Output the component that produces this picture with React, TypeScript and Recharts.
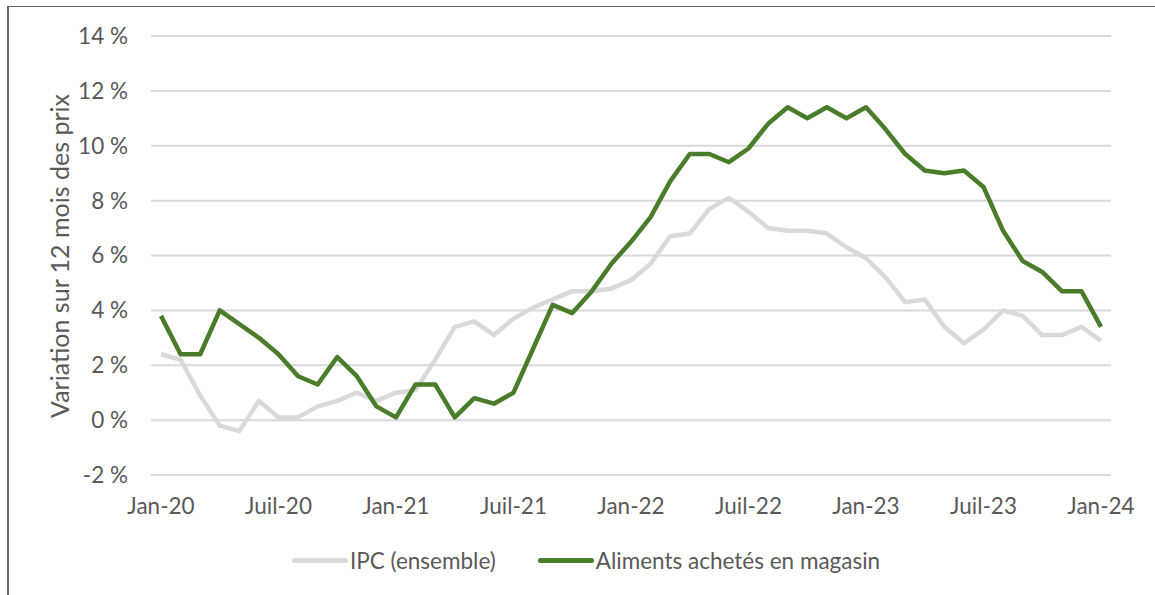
import React from 'react';
import { LineChart, Line, XAxis, YAxis, CartesianGrid, Legend } from 'recharts';

const MONTHS = ['Jan', 'Févr', 'Mars', 'Avr', 'Mai', 'Juin', 'Juil', 'Août', 'Sept', 'Oct', 'Nov', 'Déc'];
const YEARS = ['20', '21', '22', '23', '24'];

// IPC (ensemble), variation sur 12 mois, Jan-20 .. Jan-24
const ipc = [
    2.4, 2.2, 0.9, -0.2, -0.4, 0.7, 0.1, 0.1, 0.5, 0.7, 1.0, 0.7,
    1.0, 1.1, 2.2, 3.4, 3.6, 3.1, 3.7, 4.1, 4.4, 4.7, 4.7, 4.8,
    5.1, 5.7, 6.7, 6.8, 7.7, 8.1, 7.6, 7.0, 6.9, 6.9, 6.8, 6.3,
    5.9, 5.2, 4.3, 4.4, 3.4, 2.8, 3.3, 4.0, 3.8, 3.1, 3.1, 3.4,
    2.9,
];

// Aliments achetés en magasin
const aliments = [
    3.8, 2.4, 2.4, 4.0, 3.5, 3.0, 2.4, 1.6, 1.3, 2.3, 1.6, 0.5,
    0.1, 1.3, 1.3, 0.1, 0.8, 0.6, 1.0, 2.6, 4.2, 3.9, 4.7, 5.7,
    6.5, 7.4, 8.7, 9.7, 9.7, 9.4, 9.9, 10.8, 11.4, 11.0, 11.4, 11.0,
    11.4, 10.6, 9.7, 9.1, 9.0, 9.1, 8.5, 6.9, 5.8, 5.4, 4.7, 4.7,
    3.4,
];

const yTicks = [-2, 0, 2, 4, 6, 8, 10, 12, 14];
const seriesOrder = ['ipc', 'aliments'];

const labels = ipc.map((_, i) => `${MONTHS[i % 12]}-${YEARS[Math.floor(i / 12)]}`);
const data = labels.map((mois, i) => ({ mois, ipc: ipc[i], aliments: aliments[i] }));

const FONT = 'Lato, "Open Sans", sans-serif';
const FS = 22.5;
const TEXT = '#595959';
const GRAY = '#d9d9d9';
const GREEN = '#4a7d2a';

const LegendContent = ({ payload }: any) => {
    const items = [...(payload || [])].sort(
        (a: any, b: any) => seriesOrder.indexOf(a.dataKey) - seriesOrder.indexOf(b.dataKey)
    );
    return (
        <div style={{ display: 'flex', alignItems: 'center', height: 40, marginLeft: 292, fontFamily: FONT, fontSize: FS, color: TEXT }}>
            {items.map((entry: any, i: number) => (
                <div key={entry.value} style={{ display: 'flex', alignItems: 'center', marginRight: i === 0 ? 42 : 0 }}>
                    <span style={{ display: 'inline-block', width: 56, height: 5, borderRadius: 3, background: entry.color, marginRight: 2 }} />
                    <span>{entry.value}</span>
                </div>
            ))}
        </div>
    );
};

const YLabel = () => (
    <text
        x={59}
        y={256}
        transform="rotate(-90, 59, 256)"
        textAnchor="middle"
        dominantBaseline="central"
        fill={TEXT}
        fontFamily={FONT}
        fontSize={25}
    >
        Variation sur 12 mois des prix
    </text>
);

export default function App() {
    return (
        <div style={{ position: 'absolute', left: 0, top: 0, width: 1155, height: 595, background: '#fff' }}>
            <div style={{ position: 'absolute', left: 7, top: 6, width: 1148, height: 589, borderLeft: '2px solid #666', borderTop: '1px solid #666' }} />
            <LineChart width={1155} height={595} data={data} margin={{ top: 36, right: 44, left: 0, bottom: 15 }}>
                <CartesianGrid vertical={false} stroke={GRAY} strokeWidth={2} />
                <XAxis
                    dataKey="mois"
                    interval={5}
                    axisLine={false}
                    tickLine={false}
                    tickMargin={17}
                    height={65}
                    padding={{ left: 10, right: 10 }}
                    tick={{ fill: TEXT, fontSize: FS, fontFamily: FONT }}
                />
                <YAxis
                    width={151}
                    domain={[-2, 14]}
                    ticks={yTicks}
                    axisLine={false}
                    tickLine={false}
                    tickMargin={17}
                    tickFormatter={(v: number) => `${v} %`}
                    tick={{ fill: TEXT, fontSize: FS, fontFamily: FONT }}
                    label={<YLabel />}
                />
                <Legend verticalAlign="bottom" height={40} content={<LegendContent />} />
                <Line
                    type="linear"
                    dataKey="ipc"
                    name="IPC (ensemble)"
                    stroke={GRAY}
                    strokeWidth={4.5}
                    dot={false}
                    strokeLinejoin="round"
                    isAnimationActive={false}
                />
                <Line
                    type="linear"
                    dataKey="aliments"
                    name="Aliments achetés en magasin"
                    stroke={GREEN}
                    strokeWidth={4.5}
                    dot={false}
                    strokeLinejoin="round"
                    isAnimationActive={false}
                />
            </LineChart>
        </div>
    );
}
